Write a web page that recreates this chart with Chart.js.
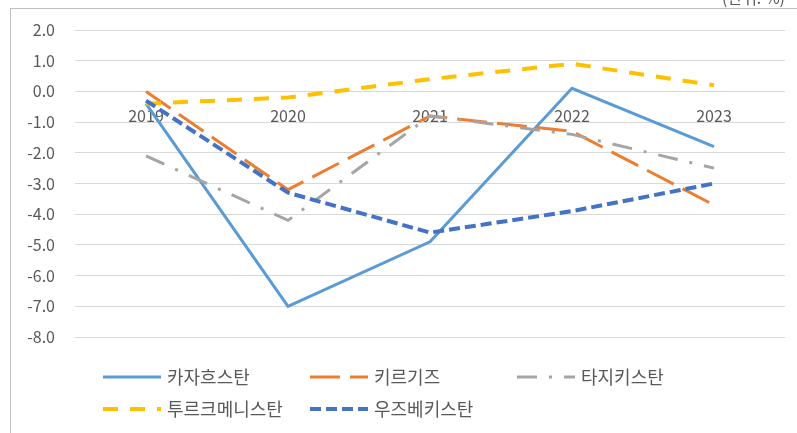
<!DOCTYPE html>
<html>
<head>
<meta charset="utf-8">
<script src="https://cdn.jsdelivr.net/npm/chart.js@4/dist/chart.umd.min.js"></script>
<style>
  body { margin: 0; background: #fff; }
  canvas { display: block; }
</style>
</head>
<body>
<canvas id="myChart" width="797" height="433"></canvas>
<script>
/* Chart data */
const years = ['2019', '2020', '2021', '2022', '2023'];
const seriesNames = ['카자흐스탄', '키르기즈', '타지키스탄', '투르크메니스탄', '우즈베키스탄'];
const kazakhstan = [-0.4, -7.0, -4.9, 0.1, -1.8];
const kyrgyz = [0.0, -3.2, -0.8, -1.3, -3.7];
const tajikistan = [-2.1, -4.2, -0.8, -1.4, -2.5];
const turkmenistan = [-0.4, -0.2, 0.4, 0.9, 0.2];
const uzbekistan = [-0.3, -3.3, -4.6, -3.9, -3.0];
const unitLabel = '(단위: %)';

const fontFamily = "'Noto Sans CJK KR', 'Noto Sans', sans-serif";
const textColor = '#595959';

// Line styles, Excel-like
const styles = [
	{ color: '#5B9BD5', width: 3, dash: [] },
	{ color: '#ED7D31', width: 3, dash: [30, 10] },
	{ color: '#A5A5A5', width: 3, dash: [20, 12, 3, 12] },
	{ color: '#FFC000', width: 4, dash: [15, 12] },
	{ color: '#4472C4', width: 4, dash: [11, 5] },
];
const values = [kazakhstan, kyrgyz, tajikistan, turkmenistan, uzbekistan];

// Frame and unit label, drawn behind the chart
const framePlugin = {
	id: 'frame',
	beforeDraw(chart) {
		const ctx = chart.ctx;
		ctx.save();
		ctx.strokeStyle = '#BFBFBF';
		ctx.lineWidth = 1;
		ctx.strokeRect(10.5, 8.5, 900, 600);
		ctx.fillStyle = textColor;
		ctx.font = '16px ' + fontFamily;
		ctx.textBaseline = 'alphabetic';
		ctx.fillText(unitLabel, 722, 4);
		ctx.restore();
	},
};

// Legend in a fixed grid like the Excel one
const legendPlugin = {
	id: 'gridLegend',
	afterDraw(chart) {
		const ctx = chart.ctx;
		ctx.save();
		ctx.font = '18px ' + fontFamily;
		ctx.textBaseline = 'middle';
		chart.data.datasets.forEach((ds, i) => {
			const col = i % 3;
			const row = Math.floor(i / 3);
			const x = 103 + col * 207;
			const y = 377 + row * 32;
			ctx.strokeStyle = ds.borderColor;
			ctx.lineWidth = ds.borderWidth;
			ctx.setLineDash(ds.borderDash);
			ctx.beginPath();
			ctx.moveTo(x, y);
			ctx.lineTo(x + 58, y);
			ctx.stroke();
			ctx.setLineDash([]);
			ctx.fillStyle = textColor;
			ctx.fillText(ds.label, x + 64, y);
		});
		ctx.restore();
	},
};

const chartContainer = document.getElementById('myChart').getContext('2d');
const chartConfig = {
	type: 'line',
	data: {
		labels: years,
		datasets: values.map((arr, i) => ({
			label: seriesNames[i],
			data: arr,
			borderColor: styles[i].color,
			backgroundColor: styles[i].color,
			borderWidth: styles[i].width,
			borderDash: styles[i].dash,
			pointRadius: 0,
			tension: 0,
			fill: false,
			order: -i,
		})),
	},
	options: {
		responsive: false,
		animation: false,
		layout: {
			padding: { top: 30, right: 12, bottom: 96, left: 0 },
		},
		scales: {
			x: {
				type: 'category',
				position: { y: 0 },
				offset: true,
				grid: { display: false, drawTicks: false },
				border: { display: false },
				ticks: {
					color: textColor,
					font: { family: fontFamily, size: 16 },
					padding: 15,
					maxRotation: 0,
				},
			},
			y: {
				min: -8,
				max: 2,
				afterFit: function (scale) {
					scale.width = 75;
				},
				grid: { color: '#D9D9D9', lineWidth: 1, drawTicks: false },
				border: { display: false },
				ticks: {
					stepSize: 1,
					color: textColor,
					font: { family: fontFamily, size: 16 },
					padding: 20,
					callback: function (v) {
						return v.toFixed(1);
					},
				},
			},
		},
		plugins: {
			legend: { display: false },
			tooltip: { enabled: false },
		},
	},
	plugins: [framePlugin, legendPlugin],
};

const myChart = new Chart(chartContainer, chartConfig);
</script>
</body>
</html>
